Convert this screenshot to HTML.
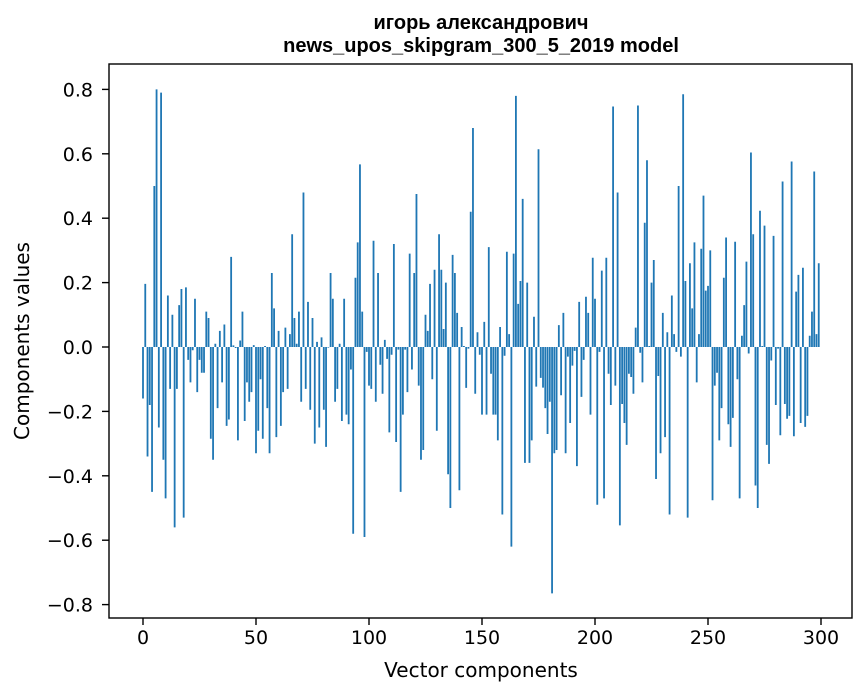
<!DOCTYPE html>
<html><head><meta charset="utf-8"><style>
html,body{margin:0;padding:0;background:#fff;}
svg{display:block;font-family:"DejaVu Sans","Liberation Sans",sans-serif;}
</style></head><body>
<svg width="867" height="696" viewBox="0 0 867 696" xmlns="http://www.w3.org/2000/svg">
<rect width="867" height="696" fill="#fff"/>
<g font-family="Liberation Sans, sans-serif" font-size="20" font-weight="bold" text-anchor="middle">
<text x="481" y="29">игорь александрович</text>
<text x="481" y="52">news_upos_skipgram_300_5_2019 model</text>
</g>
<g transform="translate(142.1,347) scale(2.26,-322)" fill="#1f77b4">
<path d="M0 0h.8V-.16h-.8zM1 0h.8V.196h-.8zM2 0h.8V-.34h-.8zM3 0h.8V-.18h-.8zM4 0h.8V-.45h-.8zM5 0h.8V.5h-.8zM6 0h.8V.8h-.8zM7 0h.8V-.25h-.8zM8 0h.8V.79h-.8zM9 0h.8V-.35h-.8z
M10 0h.8V-.47h-.8zM11 0h.8V.16h-.8zM12 0h.8V-.13h-.8zM13 0h.8V.1h-.8zM14 0h.8V-.56h-.8zM15 0h.8V-.13h-.8zM16 0h.8V.13h-.8zM17 0h.8V.18h-.8zM18 0h.8V-.53h-.8zM19 0h.8V.185h-.8z
M20 0h.8V-.04h-.8zM21 0h.8V-.11h-.8zM22 0h.8V-.01h-.8zM23 0h.8V.15h-.8zM24 0h.8V-.14h-.8zM25 0h.8V-.04h-.8zM26 0h.8V-.08h-.8zM27 0h.8V-.08h-.8zM28 0h.8V.11h-.8zM29 0h.8V.09h-.8z
M30 0h.8V-.285h-.8zM31 0h.8V-.35h-.8zM32 0h.8V.01h-.8zM33 0h.8V-.19h-.8zM34 0h.8V.05h-.8zM35 0h.8V-.11h-.8zM36 0h.8V.07h-.8zM37 0h.8V-.245h-.8zM38 0h.8V-.225h-.8zM39 0h.8V.28h-.8z
M40 0h.8V.005h-.8zM41 0h.8V-.003h-.8zM42 0h.8V-.29h-.8zM43 0h.8V.02h-.8zM44 0h.8V.11h-.8zM45 0h.8V-.23h-.8zM46 0h.8V-.11h-.8zM47 0h.8V-.17h-.8zM48 0h.8V-.14h-.8zM49 0h.8V.006h-.8z
M50 0h.8V-.33h-.8zM51 0h.8V-.26h-.8zM52 0h.8V-.1h-.8zM53 0h.8V-.285h-.8zM54 0h.8V.003h-.8zM55 0h.8V-.19h-.8zM56 0h.8V-.33h-.8zM57 0h.8V.23h-.8zM58 0h.8V.12h-.8zM59 0h.8V-.28h-.8z
M60 0h.8V.05h-.8zM61 0h.8V-.245h-.8zM62 0h.8V-.14h-.8zM63 0h.8V.06h-.8zM64 0h.8V-.13h-.8zM65 0h.8V.04h-.8zM66 0h.8V.35h-.8zM67 0h.8V.09h-.8zM68 0h.8V.01h-.8zM69 0h.8V.11h-.8z
M70 0h.8V-.17h-.8zM71 0h.8V.48h-.8zM72 0h.8V-.13h-.8zM73 0h.8V.14h-.8zM74 0h.8V-.195h-.8zM75 0h.8V.09h-.8zM76 0h.8V-.3h-.8zM77 0h.8V.016h-.8zM78 0h.8V-.25h-.8zM79 0h.8V.03h-.8z
M80 0h.8V-.195h-.8zM81 0h.8V-.31h-.8zM82 0h.8V-.002h-.8zM83 0h.8V.23h-.8zM84 0h.8V.15h-.8zM85 0h.8V-.17h-.8zM86 0h.8V-.13h-.8zM87 0h.8V.01h-.8zM88 0h.8V-.23h-.8zM89 0h.8V.15h-.8z
M90 0h.8V-.21h-.8zM91 0h.8V-.24h-.8zM92 0h.8V-.07h-.8zM93 0h.8V-.58h-.8zM94 0h.8V.215h-.8zM95 0h.8V.325h-.8zM96 0h.8V.567h-.8zM97 0h.8V.11h-.8zM98 0h.8V-.59h-.8zM99 0h.8V-.015h-.8z
M100 0h.8V-.12h-.8zM101 0h.8V-.13h-.8zM102 0h.8V.33h-.8zM103 0h.8V-.17h-.8zM104 0h.8V.23h-.8zM105 0h.8V-.055h-.8zM106 0h.8V-.145h-.8zM107 0h.8V.022h-.8zM108 0h.8V-.037h-.8zM109 0h.8V-.265h-.8z
M110 0h.8V-.024h-.8zM111 0h.8V.32h-.8zM112 0h.8V-.295h-.8zM113 0h.8V-.008h-.8zM114 0h.8V-.45h-.8zM115 0h.8V-.21h-.8zM116 0h.8V-.008h-.8zM117 0h.8V-.14h-.8zM118 0h.8V.29h-.8zM119 0h.8V-.07h-.8z
M120 0h.8V.23h-.8zM121 0h.8V.475h-.8zM122 0h.8V-.12h-.8zM123 0h.8V-.35h-.8zM124 0h.8V-.32h-.8zM125 0h.8V.1h-.8zM126 0h.8V.05h-.8zM127 0h.8V.196h-.8zM128 0h.8V-.1h-.8zM129 0h.8V.24h-.8z
M130 0h.8V-.26h-.8zM131 0h.8V.35h-.8zM132 0h.8V.24h-.8zM133 0h.8V.056h-.8zM134 0h.8V.2h-.8zM135 0h.8V-.395h-.8zM136 0h.8V-.5h-.8zM137 0h.8V.286h-.8zM138 0h.8V.23h-.8zM139 0h.8V.106h-.8z
M140 0h.8V-.445h-.8zM141 0h.8V.062h-.8zM142 0h.8V.003h-.8zM143 0h.8V-.127h-.8zM144 0h.8V-.005h-.8zM145 0h.8V.42h-.8zM146 0h.8V.68h-.8zM147 0h.8V-.145h-.8zM148 0h.8V.046h-.8zM149 0h.8V-.024h-.8z
M150 0h.8V-.21h-.8zM151 0h.8V.078h-.8zM152 0h.8V-.21h-.8zM153 0h.8V.31h-.8zM154 0h.8V-.083h-.8zM155 0h.8V-.21h-.8zM156 0h.8V-.21h-.8zM157 0h.8V-.29h-.8zM158 0h.8V.062h-.8zM159 0h.8V-.52h-.8z
M160 0h.8V-.027h-.8zM161 0h.8V.296h-.8zM162 0h.8V.04h-.8zM163 0h.8V-.62h-.8zM164 0h.8V.29h-.8zM165 0h.8V.78h-.8zM166 0h.8V.134h-.8zM167 0h.8V.205h-.8zM168 0h.8V.46h-.8zM169 0h.8V-.36h-.8z
M170 0h.8V.2h-.8zM171 0h.8V-.36h-.8zM172 0h.8V-.29h-.8zM173 0h.8V.094h-.8zM174 0h.8V-.123h-.8zM175 0h.8V.614h-.8zM176 0h.8V-.096h-.8zM177 0h.8V-.126h-.8zM178 0h.8V-.19h-.8zM179 0h.8V-.27h-.8z
M180 0h.8V-.17h-.8zM181 0h.8V-.765h-.8zM182 0h.8V-.33h-.8zM183 0h.8V-.32h-.8zM184 0h.8V.068h-.8zM185 0h.8V-.15h-.8zM186 0h.8V.106h-.8zM187 0h.8V-.33h-.8zM188 0h.8V-.03h-.8zM189 0h.8V-.236h-.8z
M190 0h.8V-.058h-.8zM191 0h.8V-.012h-.8zM192 0h.8V-.37h-.8zM193 0h.8V.14h-.8zM194 0h.8V-.155h-.8zM195 0h.8V-.04h-.8zM196 0h.8V.156h-.8zM197 0h.8V.106h-.8zM198 0h.8V-.21h-.8zM199 0h.8V.277h-.8z
M200 0h.8V.15h-.8zM201 0h.8V-.49h-.8zM202 0h.8V-.015h-.8zM203 0h.8V.237h-.8zM204 0h.8V-.47h-.8zM205 0h.8V.277h-.8zM206 0h.8V-.083h-.8zM207 0h.8V-.18h-.8zM208 0h.8V.747h-.8zM209 0h.8V-.12h-.8z
M210 0h.8V.48h-.8zM211 0h.8V-.554h-.8zM212 0h.8V-.177h-.8zM213 0h.8V-.236h-.8zM214 0h.8V-.304h-.8zM215 0h.8V-.083h-.8zM216 0h.8V-.093h-.8zM217 0h.8V-.145h-.8zM218 0h.8V.06h-.8zM219 0h.8V.75h-.8z
M220 0h.8V-.018h-.8zM221 0h.8V-.11h-.8zM222 0h.8V.386h-.8zM223 0h.8V.58h-.8zM224 0h.8V.003h-.8zM225 0h.8V.2h-.8zM226 0h.8V.27h-.8zM227 0h.8V-.41h-.8zM228 0h.8V-.09h-.8zM229 0h.8V-.33h-.8z
M230 0h.8V.106h-.8zM231 0h.8V-.28h-.8zM232 0h.8V.046h-.8zM233 0h.8V-.52h-.8zM234 0h.8V.16h-.8zM235 0h.8V.04h-.8zM236 0h.8V-.015h-.8zM237 0h.8V.5h-.8zM238 0h.8V-.03h-.8zM239 0h.8V.785h-.8z
M240 0h.8V.205h-.8zM241 0h.8V-.53h-.8zM242 0h.8V.26h-.8zM243 0h.8V.12h-.8zM244 0h.8V.325h-.8zM245 0h.8V-.11h-.8zM246 0h.8V.04h-.8zM247 0h.8V.305h-.8zM248 0h.8V.47h-.8zM249 0h.8V.175h-.8z
M250 0h.8V.19h-.8zM251 0h.8V.3h-.8zM252 0h.8V-.476h-.8zM253 0h.8V-.12h-.8zM254 0h.8V-.08h-.8zM255 0h.8V-.29h-.8zM256 0h.8V-.19h-.8zM257 0h.8V.215h-.8zM258 0h.8V.34h-.8zM259 0h.8V-.24h-.8z
M260 0h.8V-.31h-.8zM261 0h.8V-.22h-.8zM262 0h.8V.327h-.8zM263 0h.8V-.1h-.8zM264 0h.8V-.47h-.8zM265 0h.8V.035h-.8zM266 0h.8V.13h-.8zM267 0h.8V.265h-.8zM268 0h.8V-.02h-.8zM269 0h.8V.604h-.8z
M270 0h.8V.35h-.8zM271 0h.8V-.43h-.8zM272 0h.8V-.5h-.8zM273 0h.8V.423h-.8zM274 0h.8V.003h-.8zM275 0h.8V.377h-.8zM276 0h.8V-.304h-.8zM277 0h.8V-.363h-.8zM278 0h.8V-.042h-.8zM279 0h.8V.345h-.8z
M280 0h.8V-.18h-.8zM281 0h.8V-.005h-.8zM282 0h.8V-.274h-.8zM283 0h.8V.514h-.8zM284 0h.8V-.177h-.8zM285 0h.8V-.223h-.8zM286 0h.8V-.214h-.8zM287 0h.8V.576h-.8zM288 0h.8V-.277h-.8zM289 0h.8V.172h-.8z
M290 0h.8V.224h-.8zM291 0h.8V-.236h-.8zM292 0h.8V.246h-.8zM293 0h.8V-.248h-.8zM294 0h.8V-.214h-.8zM295 0h.8V.035h-.8zM296 0h.8V.11h-.8zM297 0h.8V.545h-.8zM298 0h.8V.04h-.8zM299 0h.8V.26h-.8z"/>
</g>
<rect x="109" y="64" width="743" height="554" fill="none" stroke="#000" stroke-width="1.4"/>
<g stroke="#000" stroke-width="1.4">
<line x1="143" y1="618" x2="143" y2="625"/><line x1="256" y1="618" x2="256" y2="625"/><line x1="369" y1="618" x2="369" y2="625"/><line x1="482" y1="618" x2="482" y2="625"/><line x1="595" y1="618" x2="595" y2="625"/><line x1="708" y1="618" x2="708" y2="625"/><line x1="821" y1="618" x2="821" y2="625"/>
<line x1="102" y1="89.4" x2="109" y2="89.4"/><line x1="102" y1="153.8" x2="109" y2="153.8"/><line x1="102" y1="218.2" x2="109" y2="218.2"/><line x1="102" y1="282.6" x2="109" y2="282.6"/><line x1="102" y1="347" x2="109" y2="347"/><line x1="102" y1="411.4" x2="109" y2="411.4"/><line x1="102" y1="475.8" x2="109" y2="475.8"/><line x1="102" y1="540.2" x2="109" y2="540.2"/><line x1="102" y1="604.6" x2="109" y2="604.6"/>
</g>
<g font-size="19" fill="#000" text-anchor="middle">
<text x="143" y="644">0</text><text x="256" y="644">50</text><text x="369" y="644">100</text><text x="482" y="644">150</text><text x="595" y="644">200</text><text x="708" y="644">250</text><text x="821" y="644">300</text>
</g>
<g font-size="19" fill="#000" text-anchor="end">
<text x="93" y="96.4">0.8</text><text x="93" y="160.8">0.6</text><text x="93" y="225.2">0.4</text><text x="93" y="289.6">0.2</text><text x="93" y="354">0.0</text><text x="93" y="418.4">−0.2</text><text x="93" y="482.8">−0.4</text><text x="93" y="547.2">−0.6</text><text x="93" y="611.6">−0.8</text>
</g>
<text x="481" y="677" text-anchor="middle" font-size="20">Vector components</text>
<text transform="translate(29,341) rotate(-90)" text-anchor="middle" font-size="20">Components values</text>
</svg>
</body></html>
